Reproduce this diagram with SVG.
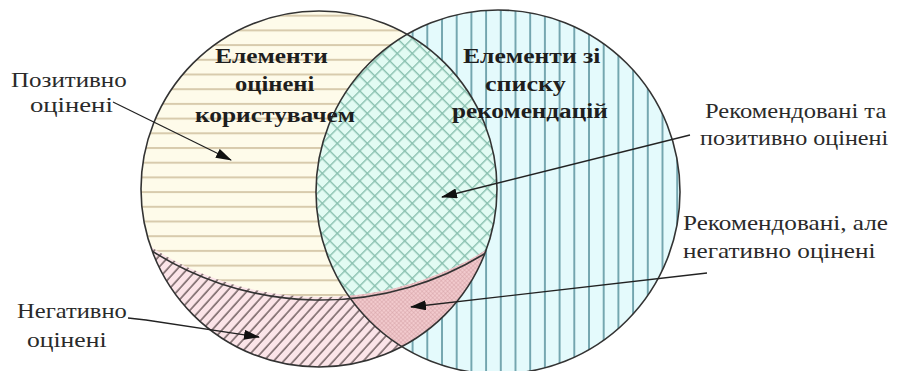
<svg xmlns="http://www.w3.org/2000/svg" width="898" height="371" viewBox="0 0 898 371">
<style>
.edge{fill:none;stroke:#333;stroke-width:1.6}
.conn{fill:none;stroke:#222;stroke-width:1.3}
</style>
<defs>
<pattern id="pH" width="10" height="14.7" patternUnits="userSpaceOnUse">
<rect width="10" height="14.7" fill="#fefbea"/>
<line x1="0" y1="1" x2="10" y2="1" stroke="#d8cbad" stroke-width="2"/>
</pattern>
<pattern id="pV" width="14.7" height="10" patternUnits="userSpaceOnUse">
<rect width="14.7" height="10" fill="#e4fafc"/>
<line x1="1" y1="0" x2="1" y2="10" stroke="#6399a4" stroke-width="1.7"/>
</pattern>
<pattern id="pX" width="10.6" height="10.6" patternUnits="userSpaceOnUse" patternTransform="rotate(45)">
<rect width="10.6" height="10.6" fill="#e2fbf3"/>
<line x1="0" y1="0" x2="10.6" y2="0" stroke="#88bfae" stroke-width="2.8"/>
<line x1="0" y1="0" x2="0" y2="10.6" stroke="#88bfae" stroke-width="2.8"/>
</pattern>
<pattern id="pD" width="10" height="7.4" patternUnits="userSpaceOnUse" patternTransform="rotate(-48)">
<rect width="10" height="7.4" fill="#fbe4e8"/>
<line x1="0" y1="1" x2="10" y2="1" stroke="#5b4a4c" stroke-width="1.3"/>
</pattern>
<pattern id="pF" width="3" height="3" patternUnits="userSpaceOnUse" patternTransform="rotate(45)">
<rect width="3" height="3" fill="#f2cacd"/>
<line x1="0" y1="0" x2="3" y2="0" stroke="#d09ca1" stroke-width="0.8"/>
<line x1="0" y1="0" x2="0" y2="3" stroke="#d09ca1" stroke-width="0.8"/>
</pattern>
<clipPath id="cL"><circle cx="319" cy="189" r="178"/></clipPath>
<clipPath id="cR"><circle cx="498" cy="192" r="182"/></clipPath>
<clipPath id="cB"><path clip-rule="evenodd" d="M-10,-400 H910 V400 H-10 Z M7,-17 a314,314 0 1 0 628,0 a314,314 0 1 0 -628,0 Z"/></clipPath>
<marker id="ah" markerWidth="16" markerHeight="10" refX="15" refY="5" orient="auto" markerUnits="userSpaceOnUse">
<path d="M0,0 L16,5 L0,10 Z" fill="#111"/>
</marker>
</defs>

<g id="set-rated">
<circle cx="319" cy="189" r="178" fill="url(#pH)"/>
</g>
<g id="set-recommended">
<circle cx="498" cy="192" r="182" fill="url(#pV)"/>
</g>
<g id="region-recommended-positive" clip-path="url(#cL)">
<circle cx="498" cy="192" r="182" fill="url(#pX)"/>
</g>
<g id="region-negative" clip-path="url(#cB)">
<circle cx="319" cy="189" r="178" fill="url(#pD)"/>
</g>
<g id="region-recommended-negative" clip-path="url(#cB)">
<g clip-path="url(#cL)">
<circle cx="498" cy="192" r="182" fill="url(#pF)"/>
</g>
</g>
<g id="outlines">
<circle class="edge" cx="319" cy="189" r="178"/>
<circle class="edge" cx="498" cy="192" r="182"/>
<g clip-path="url(#cL)">
<path class="edge" d="M140,243 A314,314 0 0 0 492,249"/>
</g>
</g>

<g id="title-rated">
<text font-family="Liberation Serif" font-size="21" font-weight="bold" fill="#1e1e1e" transform="translate(215,63) scale(1.21,1)">Елементи</text>
<text font-family="Liberation Serif" font-size="21" font-weight="bold" fill="#1e1e1e" transform="translate(235,91) scale(1.17,1)">оцінені</text>
<text font-family="Liberation Serif" font-size="21" font-weight="bold" fill="#1e1e1e" transform="translate(195,122) scale(1.21,1)">користувачем</text>
</g>
<g id="title-recommended">
<text font-family="Liberation Serif" font-size="21" font-weight="bold" fill="#1e1e1e" transform="translate(463,63) scale(1.22,1)">Елементи зі</text>
<text font-family="Liberation Serif" font-size="21" font-weight="bold" fill="#1e1e1e" transform="translate(485,91) scale(1.24,1)">списку</text>
<text font-family="Liberation Serif" font-size="21" font-weight="bold" fill="#1e1e1e" transform="translate(452,118) scale(1.2,1)">рекомендацій</text>
</g>
<g id="label-positive">
<text font-family="Liberation Serif" font-size="21" fill="#2a2a2a" transform="translate(11,87) scale(1.19,1)">Позитивно</text>
<text font-family="Liberation Serif" font-size="21" fill="#2a2a2a" transform="translate(30,112) scale(1.27,1)">оцінені</text>
</g>
<g id="label-negative">
<text font-family="Liberation Serif" font-size="21" fill="#2a2a2a" transform="translate(17,318) scale(1.17,1)">Негативно</text>
<text font-family="Liberation Serif" font-size="21" fill="#2a2a2a" transform="translate(27,347) scale(1.22,1)">оцінені</text>
</g>
<g id="label-rec-positive">
<text font-family="Liberation Serif" font-size="21" fill="#2a2a2a" transform="translate(705,118) scale(1.17,1)">Рекомендовані та</text>
<text font-family="Liberation Serif" font-size="21" fill="#2a2a2a" transform="translate(700,145) scale(1.15,1)">позитивно оцінені</text>
</g>
<g id="label-rec-negative">
<text font-family="Liberation Serif" font-size="21" fill="#2a2a2a" transform="translate(683,230) scale(1.2,1)">Рекомендовані, але</text>
<text font-family="Liberation Serif" font-size="21" fill="#2a2a2a" transform="translate(683,258) scale(1.2,1)">негативно оцінені</text>
</g>

<g id="connectors">
<line class="conn" x1="113" y1="102" x2="231" y2="160" marker-end="url(#ah)"/>
<line class="conn" x1="690" y1="135" x2="442" y2="197" marker-end="url(#ah)"/>
<line class="conn" x1="707" y1="273" x2="411" y2="307" marker-end="url(#ah)"/>
<polyline class="conn" points="128,318 146,320 259,337" marker-end="url(#ah)"/>
</g>
</svg>
